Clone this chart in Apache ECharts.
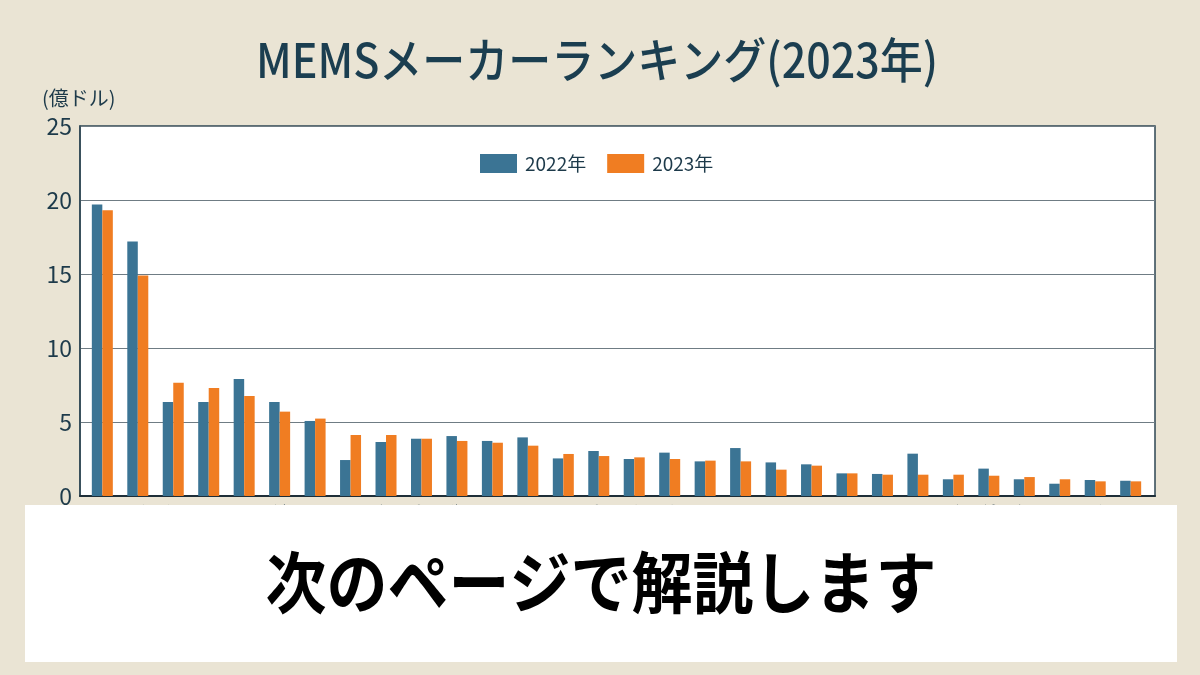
<!DOCTYPE html>
<html><head><meta charset="utf-8">
<script src="https://cdn.jsdelivr.net/npm/echarts@6/dist/echarts.min.js"></script>
<style>html,body{margin:0;padding:0;background:#EAE4D4;}#c{width:1200px;height:675px;}</style>
</head><body><div id="c"></div>
<script>
const titleText = 'MEMSメーカーランキング(2023年)';
const unitText = '(億ドル)';
const overlayText = '次のページで解説します';
const seriesNames = ['2022年', '2023年'];
const categories = ['ボッシュ','ブロードコム','クオルボ','STマイクロ','TI','TDK','インフィニオン','ゴアテック','ノウルズ','HP','村田製作所','オムロン','センサータ','キヤノン','NXP','ハネウェル','アンフェノール','デンソー','エプソン','メレキシス','シレックス','パナソニック','ADI','テレダイン','TE','旭化成','メムセンシング','メムシック','富士フイルム','サフラン'];
const values2022 = [19.7,17.2,6.35,6.35,7.9,6.35,5.07,2.43,3.65,3.87,4.05,3.72,3.96,2.54,3.04,2.5,2.93,2.34,3.24,2.27,2.14,1.53,1.49,2.86,1.13,1.85,1.13,0.83,1.08,1.03];
const values2023 = [19.3,14.9,7.66,7.3,6.76,5.7,5.23,4.12,4.12,3.87,3.72,3.6,3.4,2.84,2.7,2.61,2.5,2.39,2.34,1.78,2.05,1.53,1.44,1.44,1.44,1.37,1.28,1.13,0.99,0.99];
const yTicks = [0,5,10,15,20,25];

const chart = echarts.init(document.getElementById('c'), null, {renderer:'canvas'});
const font = '"Noto Sans CJK JP", "Noto Sans", sans-serif';
const textColor = '#1D3A4A';
chart.setOption({
  backgroundColor: '#EAE4D4',
  animation: false,
  legend: {
    data: seriesNames, top: 154, left: 480, padding: 0, icon: 'rect',
    itemWidth: 37, itemHeight: 19, itemGap: 21,
    textStyle: {fontFamily: font, fontSize: 19, color: textColor, padding: [0,0,0,3]}
  },
  grid: [
    {left: 80, right: 45, top: 126, bottom: 179,
     show: true, backgroundColor: '#FFFFFF', borderColor: '#2E4653', borderWidth: 1.5},
    {left: 84.6, right: 51.6, top: 126, bottom: 179, show: false}
  ],
  xAxis: [
    {gridIndex: 0, type: 'value', min: 0, max: 1, show: true,
     axisLine: {show: true, lineStyle: {color: '#1E2E38', width: 2}},
     axisTick: {show: false}, axisLabel: {show: false}, splitLine: {show: false}},
    {gridIndex: 1, type: 'category', data: categories,
     axisLine: {show: false},
     axisTick: {show: false},
     axisLabel: {rotate: 90, interval: 0, fontFamily: font, fontSize: 13, color: textColor, margin: 8}}
  ],
  yAxis: [
    {gridIndex: 0, type: 'value', min: 0, max: 25, interval: 5,
     axisLine: {show: true, lineStyle: {color: '#2E4653', width: 1.5}},
     axisTick: {show: false},
     axisLabel: {fontFamily: font, fontSize: 23, color: textColor, margin: 8,
       formatter: v => yTicks.includes(v) ? String(v) : ''},
     splitLine: {lineStyle: {color: '#6F7C84', width: 1.2}}},
    {gridIndex: 1, type: 'value', min: 0, max: 25, interval: 5, show: false, splitLine: {show: false}}
  ],
  series: [
    {name: seriesNames[0], type: 'bar', xAxisIndex: 1, yAxisIndex: 1, data: values2022, barWidth: 10.5, barGap: '0%', itemStyle: {color: '#3B7494'}},
    {name: seriesNames[1], type: 'bar', xAxisIndex: 1, yAxisIndex: 1, data: values2023, barWidth: 10.5, itemStyle: {color: '#F07D22'}}
  ],
  graphic: [
    {type: 'text', x: 597, y: 60, z: 50, scaleY: 1.1,
      style: {text: titleText, fontFamily: font, fontSize: 43, fontWeight: 500, fill: '#1B3E50', align: 'center', verticalAlign: 'middle'}},
    {type: 'text', x: 42, y: 98, z: 50,
      style: {text: unitText, fontFamily: font, fontSize: 20, fill: textColor, align: 'left', verticalAlign: 'middle'}},
    {type: 'rect', left: 25, top: 505, z: 100, shape: {width: 1152, height: 157}, style: {fill: '#FFFFFF'}},
    {type: 'text', x: 601, y: 582, z: 101, scaleY: 1.1,
      style: {text: overlayText, fontFamily: font, fontSize: 61, fontWeight: 'bold', fill: '#000000', align: 'center', verticalAlign: 'middle'}}
  ]
});
</script></body></html>
